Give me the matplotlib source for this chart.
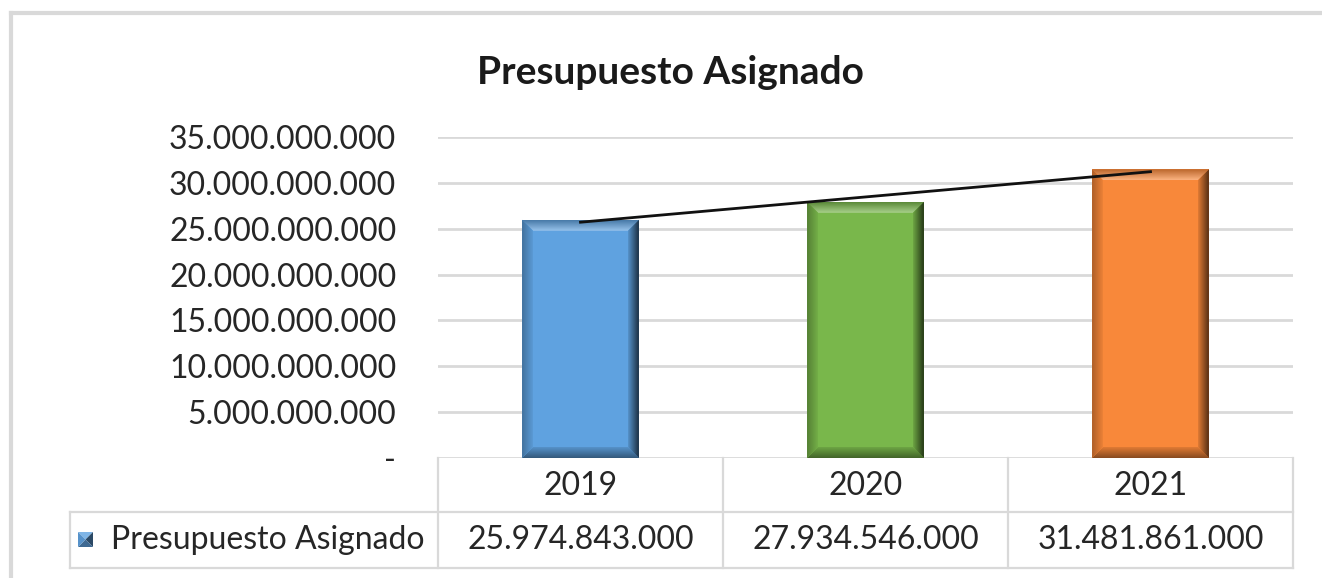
import numpy as np
import matplotlib
matplotlib.use("Agg")
import matplotlib.pyplot as plt
from matplotlib.patches import Polygon
from matplotlib.lines import Line2D
from matplotlib import transforms
from matplotlib.colors import to_rgb

years = ["2019", "2020", "2021"]
values = [25974843000, 27934546000, 31481861000]
series_name = "Presupuesto Asignado"
bar_colors = ["#5FA2E0", "#79B74B", "#F8883A"]

W, H = 1322, 578
plt.rcParams['font.family'] = ['Lato', 'DejaVu Sans']
FS = 23

def fx(px):
    return px / W

def fy(py):
    return 1 - py / H

def fmt(v):
    if v == 0:
        return "-"
    return f"{v:,.0f}".replace(",", ".")

def mix(c, other, t):
    c = np.array(to_rgb(c)); o = np.array(to_rgb(other))
    return tuple(c * (1 - t) + o * t)

fig = plt.figure(figsize=(W / 100, H / 100), dpi=100)
ax = fig.add_axes([fx(438), fy(458), fx(1293) - fx(438), fy(137) - fy(458)])

x = np.arange(len(years))
bw = 0.41
bars = ax.bar(x, values, width=bw, color=bar_colors, zorder=2)
ax.set_xlim(-0.5, len(years) - 0.5)
ax.set_ylim(0, 35e9)
yt = np.arange(0, 35e9 + 1, 5e9)
ax.set_yticks(yt)
ax.set_yticklabels([fmt(v) for v in yt], fontsize=FS, color="#262626")
ax.tick_params(axis="y", length=0, pad=30)
ax.set_xticks([])
for s in ax.spines.values():
    s.set_visible(False)
ax.yaxis.grid(True, color="#D9D9D9", lw=2, zorder=0)
ax.set_axisbelow(True)

# bevel look on bars
ppx = (fx(1293) - fx(438)) * W / (len(years))
ppy = (fy(137) - fy(458)) * H / 35e9
b = 11

def grad(verts, c0, c1, horizontal, ext):
    poly = Polygon(verts, closed=True, facecolor="none", edgecolor="none")
    ax.add_patch(poly)
    n = 32
    cols = np.array([mix(c0, c1, t) for t in np.linspace(0, 1, n)])
    img = cols[None, :, :] if horizontal else cols[:, None, :]
    im = ax.imshow(img, extent=ext, aspect="auto", origin="lower", zorder=3,
                   interpolation="bilinear")
    im.set_clip_path(poly)

for rect, c in zip(bars, bar_colors):
    x0, y0 = rect.get_x(), rect.get_y()
    w, h = rect.get_width(), rect.get_height()
    dx, dy = b / ppx, b / ppy
    x1, y1 = x0 + w, y0 + h
    # top: dark edge -> light highlight
    grad([(x0, y1), (x1, y1), (x1 - dx, y1 - dy), (x0 + dx, y1 - dy)],
         mix(c, "white", 0.35), mix(c, "black", 0.25), False, (x0, x1, y1 - dy, y1))
    # bottom: base -> dark edge
    grad([(x0, y0), (x1, y0), (x1 - dx, y0 + dy), (x0 + dx, y0 + dy)],
         mix(c, "black", 0.45), mix(c, "black", 0.1), False, (x0, x1, y0, y0 + dy))
    # left
    grad([(x0, y0), (x0, y1), (x0 + dx, y1 - dy), (x0 + dx, y0 + dy)],
         mix(c, "black", 0.3), mix(c, "black", 0.05), True, (x0, x0 + dx, y0, y1))
    # right
    grad([(x1, y0), (x1, y1), (x1 - dx, y1 - dy), (x1 - dx, y0 + dy)],
         mix(c, "black", 0.1), mix(c, "black", 0.7), True, (x1 - dx, x1, y0, y1))

ax.set_xlim(-0.5, len(years) - 0.5)
ax.set_ylim(0, 35e9)

# linear trend line
k, m = np.polyfit(x, values, 1)
ax.plot(x, k * x + m, color="#111111", lw=2, zorder=4)

# title
fig.text(fx(670), fy(72), series_name, ha="center", va="center",
         fontsize=28, fontweight="bold", color="#1a1a1a")

# outer chart border
for seg in [([fx(11), 1], [fy(13), fy(13)]), ([fx(11), fx(11)], [fy(13), 0])]:
    fig.add_artist(Line2D(seg[0], seg[1], color="#D9D9D9", lw=3))

# data table
tc = "#D9D9D9"
bt = transforms.blended_transform_factory(ax.transData, fig.transFigure)
edges = np.arange(len(years) + 1) - 0.5
for e in edges:
    fig.add_artist(Line2D([e, e], [fy(458), fy(568)], color=tc, lw=1.6, transform=bt))
fig.add_artist(Line2D([fx(70), fx(70)], [fy(512), fy(568)], color=tc, lw=1.6))
for yy in [512, 568]:
    fig.add_artist(Line2D([fx(70), fx(1293)], [fy(yy), fy(yy)], color=tc, lw=1.6))
for xi, yr, v in zip(x, years, values):
    fig.text(xi, fy(486), yr, ha="center", va="center", fontsize=FS,
             color="#262626", transform=bt)
    fig.text(xi, fy(540), fmt(v), ha="center", va="center", fontsize=FS,
             color="#262626", transform=bt)
fig.text(fx(111), fy(540), series_name, ha="left", va="center", fontsize=FS,
         color="#262626")

# legend key with bevel
kx0, kx1, ky0, ky1 = 78, 93, 532, 547
kc = bar_colors[0]
cxk, cyk = (kx0 + kx1) / 2, (ky0 + ky1) / 2
tris = [
    ([(kx0, ky0), (kx1, ky0), (cxk, cyk)], mix(kc, "white", 0.2)),
    ([(kx1, ky0), (kx1, ky1), (cxk, cyk)], mix(kc, "black", 0.55)),
    ([(kx0, ky1), (kx1, ky1), (cxk, cyk)], mix(kc, "black", 0.35)),
    ([(kx0, ky0), (kx0, ky1), (cxk, cyk)], mix(kc, "black", 0.1)),
]
for pts, col in tris:
    fig.add_artist(Polygon([(fx(p[0]), fy(p[1])) for p in pts], closed=True,
                           facecolor=col, edgecolor="none", transform=fig.transFigure))

fig.savefig("out.png", dpi=100, facecolor="white")
